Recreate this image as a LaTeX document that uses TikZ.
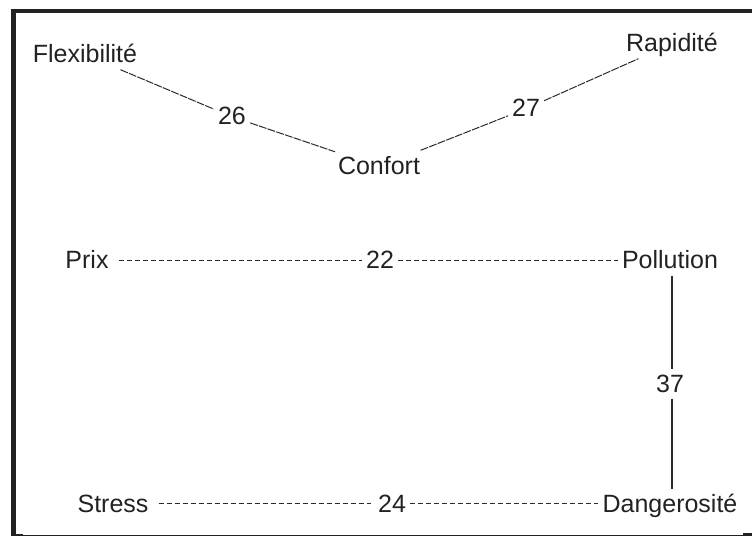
\documentclass[tikz,border=0pt]{standalone}
\usepackage{fontspec}
\setmainfont{Liberation Sans}
\definecolor{ink}{HTML}{222222}
\definecolor{wire}{HTML}{2A2A2A}
\tikzset{
  lbl/.style={font=\fontsize{25}{30}\selectfont, text=ink, inner sep=4pt,
              text height=19pt, text depth=2.5pt, anchor=base},
  slant/.style={draw=wire, line width=1pt, dash pattern=on 8pt off 1.2pt},
  dashline/.style={draw=wire, line width=1.1pt, dash pattern=on 5pt off 3pt},
  solidline/.style={draw=wire, line width=1.3pt},
  framefill/.style={fill=ink, draw=none}
}
\begin{document}
\begin{tikzpicture}[x=1pt,y=-1pt]
\useasboundingbox (0,0) rectangle (752,537);
% frame
\fill[framefill] (11,9) rectangle (752,13.3);
\fill[framefill] (11,9) rectangle (15.6,536);
\fill[framefill] (11,533.5) rectangle (22.5,536);
\fill[framefill] (743,533) rectangle (752,536);
\draw[ink, line width=1.2pt] (22,535.3) -- (743,535.3);
% nodes
\node[lbl] (flex) at (85,63) {Flexibilité};
\node[lbl] (rap) at (672,52) {Rapidité};
\node[lbl] (conf) at (379,175) {Confort};
\node[lbl] (n26) at (232,125) {26};
\node[lbl] (n27) at (526,117) {27};
\node[lbl] (prix) at (87,269) {Prix};
\node[lbl] (n22) at (380,269) {22};
\node[lbl] (poll) at (670,269) {Pollution};
\node[lbl] (n37) at (670,392) {37};
\node[lbl] (stress) at (113,512) {Stress};
\node[lbl] (n24) at (392,512) {24};
\node[lbl] (dang) at (670,512) {Dangerosité};
% connectors
\draw[slant] (flex) -- (n26);
\draw[slant] (n26) -- (conf);
\draw[slant, shorten <=4pt] (conf) -- (n27);
\draw[slant] (n27) -- (rap);
\draw[dashline, shorten <=6pt] (prix) -- (n22);
\draw[dashline] (n22) -- (poll);
\draw[dashline, shorten <=6pt, shorten >=3pt] (stress) -- (n24);
\draw[dashline] (n24) -- (dang);
\draw[solidline] ([xshift=2pt]poll.south) -- ([xshift=2pt]n37.north);
\draw[solidline] ([xshift=2pt]n37.south) -- ([xshift=2pt]dang.north);
\end{tikzpicture}
\end{document}
